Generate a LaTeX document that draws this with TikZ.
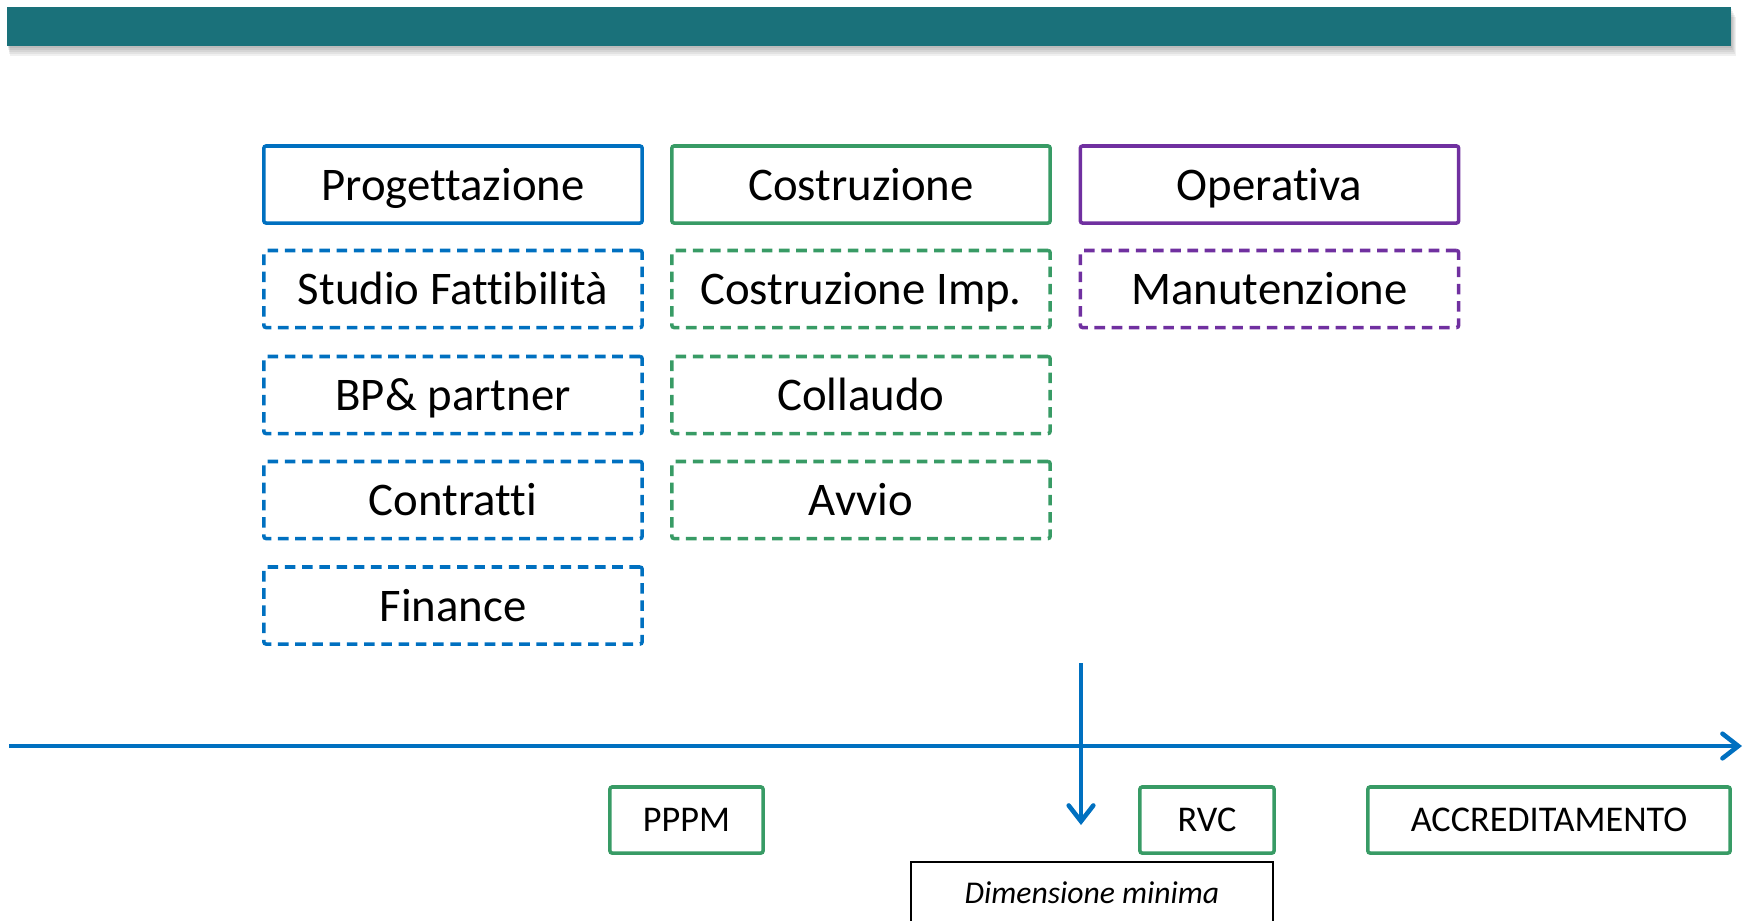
\documentclass[tikz,border=0pt]{standalone}
\usepackage{fontspec}
\setmainfont{Carlito}[Ligatures={NoCommon,NoContextual}, RawFeature={-liga;-clig;-calt;-dlig}]
\usetikzlibrary{arrows.meta}
\definecolor{barTeal}{RGB}{26,113,122}
\definecolor{phaseBlue}{RGB}{0,112,192}
\definecolor{phaseGreen}{RGB}{56,155,101}
\definecolor{phasePurple}{RGB}{112,48,160}

\begin{document}
\begin{tikzpicture}[x=0.01cm, y=-0.01cm,
    phase/.style={draw, line width=1pt, rounded corners=0.6pt, minimum width=3.78cm,
        minimum height=0.77cm, inner sep=0pt, text height=0.9em, text depth=0pt,
        font=\fontsize{13.3}{16}\selectfont},
    task/.style={phase, dash pattern=on 3pt off 1.9pt},
    milestone/.style={draw=phaseGreen, line width=1pt, rounded corners=0.6pt,
        minimum height=0.66cm, inner sep=0pt, text height=0.66em, text depth=0pt,
        font=\fontsize{10.3}{12}\selectfont},
    timearrow/.style={phaseBlue, line width=1.3pt,
        -{Straight Barb[length=4.5pt, width=7pt, line cap=round]}}]
    \useasboundingbox (0,0) rectangle (1748,920);

    % Title bar
    \foreach \s in {2,4,...,10}
        \fill[black, opacity=0.06] (7+\s*0.3,7+\s) rectangle (1731+\s*0.5,46+\s);
    \fill[barTeal] (7,7) rectangle (1731,46);

    % Phases
    \node[phase, draw=phaseBlue] (prog) at (453,184.5) {Progettazione};
    \node[phase, draw=phaseGreen] (costr) at (861,184.5) {Costruzione};
    \node[phase, draw=phasePurple] (oper) at (1269.5,184.5) {Operativa};

    % Activities
    \node[task, draw=phaseBlue] (studio) at (453,289) {Studio Fattibilità};
    \node[task, draw=phaseBlue] (bp) at (453,395) {BP\& partner};
    \node[task, draw=phaseBlue] (contratti) at (453,500) {Contratti};
    \node[task, draw=phaseBlue] (finance) at (453,605.5) {Finance};
    \node[task, draw=phaseGreen] (costrImp) at (861,289) {Costruzione Imp.};
    \node[task, draw=phaseGreen] (collaudo) at (861,395) {Collaudo};
    \node[task, draw=phaseGreen] (avvio) at (861,500) {Avvio};
    \node[task, draw=phasePurple] (manut) at (1269.5,289) {Manutenzione};

    % Timeline
    \coordinate (tStart) at (9,746);
    \coordinate (tEnd) at (1742,746);
    \draw[timearrow] (tStart) -- (tEnd);
    \coordinate (dimTop) at (1081,663);
    \coordinate (dimTip) at (1081,825);
    \draw[timearrow] (dimTop) -- (dimTip);

    % Milestones
    \node[milestone, minimum width=1.53cm] (pppm) at (686.5,820) {PPPM};
    \node[milestone, minimum width=1.34cm] (rvc) at (1207,820) {RVC};
    \node[milestone, minimum width=3.62cm] (accr) at (1549,820) {ACCREDITAMENTO};
    \node[draw, line width=0.5pt, minimum width=3.62cm, minimum height=0.6cm, inner sep=0pt,
        text height=0.66em, text depth=0pt,
        font=\fontsize{9}{11}\selectfont\itshape] (dimMin) at (1092,892) {Dimensione minima};
\end{tikzpicture}
\end{document}
